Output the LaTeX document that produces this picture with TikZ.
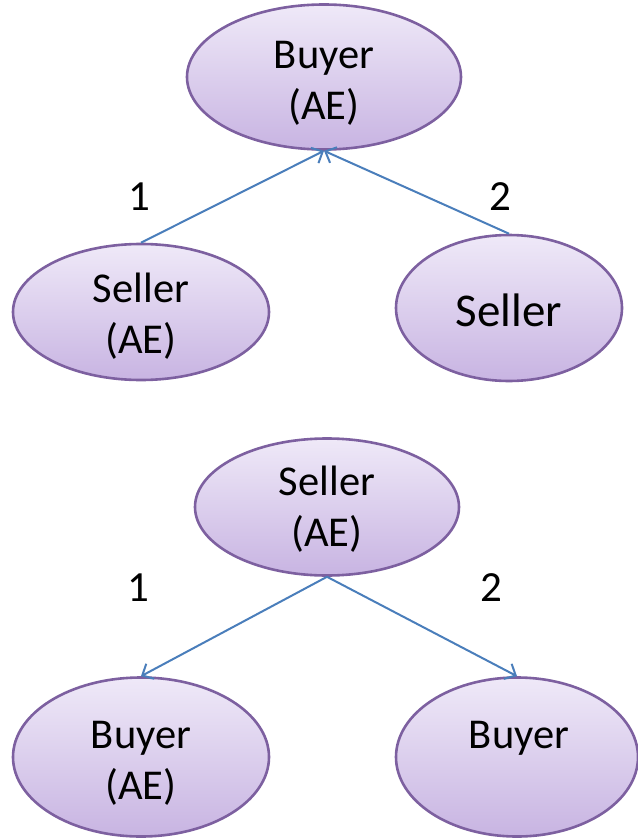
\documentclass[tikz,border=0pt]{standalone}
\usepackage{fontspec}
\setmainfont{Carlito}
\usetikzlibrary{shapes.geometric,arrows.meta}
\definecolor{ebord}{HTML}{7D60A0}
\definecolor{etop}{HTML}{EFE9F8}
\definecolor{ebot}{HTML}{C8B4E2}
\definecolor{conncol}{HTML}{4A7EBB}
\tikzset{
  oval/.style={ellipse, draw=ebord, line width=2.6pt, top color=etop, bottom color=ebot,
    inner sep=0pt},
  txt/.style={align=center, inner sep=0pt, font=\fontsize{42.5}{51}\selectfont},
  conn/.style={draw=conncol, line width=2pt, -{Straight Barb[length=9pt,width=17pt,line width=2pt]}},
  num/.style={font=\fontsize{43}{50}\selectfont, inner sep=0pt}
}
\begin{document}
\begin{tikzpicture}[x=1pt,y=-1pt]
\useasboundingbox (0,0) rectangle (637,840);
% top tree
\node[oval, minimum width=274pt, minimum height=145pt] (ba) at (324,77) {};
\node[txt] (bat) at (324,83) {Buyer\\(AE)};
\node[oval, minimum width=256pt, minimum height=136pt] (sa) at (141,312) {};
\node[txt] (sat) at (141,316) {Seller\\(AE)};
\node[oval, minimum width=226pt, minimum height=146pt] (s) at (509,308) {};
\node[txt, font=\fontsize{47}{55}\selectfont] (st) at (509,310) {Seller};
\draw[conn] (sa.north) -- (ba.south);
\draw[conn] (s.north) -- (ba.south);
\node[num] (n1) at (139,197) {1};
\node[num] (n2) at (500,197) {2};
% bottom tree
\node[oval, minimum width=264pt, minimum height=137pt] (sm) at (327,507) {};
\node[txt] (smt) at (327,509) {Seller\\(AE)};
\node[oval, minimum width=256pt, minimum height=159pt] (bl) at (141,757) {};
\node[txt] (blt) at (141,763) {Buyer\\(AE)};
\node[oval, minimum width=242pt, minimum height=159pt] (br) at (517,757) {};
\node[txt] (brt) at (519,763) {Buyer\\\vphantom{(AE)}};
\draw[conn] (sm.south) -- (bl.north);
\draw[conn] (sm.south) -- (br.north);
\node[num] (n3) at (138,588) {1};
\node[num] (n4) at (491,588) {2};
\end{tikzpicture}
\end{document}
